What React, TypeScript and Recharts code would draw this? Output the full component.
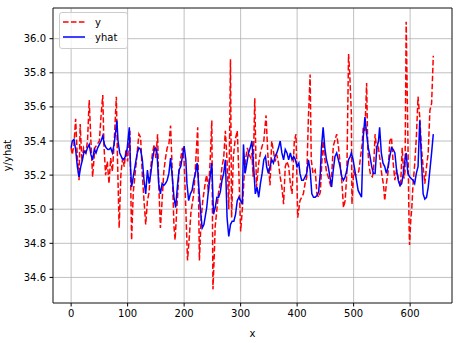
import React from 'react';
import { LineChart, Line, XAxis, YAxis, CartesianGrid, ReferenceLine, Legend } from 'recharts';

const yX = [0,2,5,8,11,14,16,19,22,26,29,32,35,38,42,46,50,53,56,58,61,64,67,70,73,76,80,82,85,88,91,94,97,100,102,104,107,110,113,116,120,123,126,129,132,135,138,141,144,147,150,153,155,158,161,164,167,170,173,176,179,182,184,187,191,194,197,200,203,206,209,212,217,220,224,227,230,233,238,240,243,246,249,251,253,255,258,261,264,267,270,273,276,279,282,284,287,290,294,297,300,303,306,309,312,315,318,320,322,325,328,332,335,338,341,345,348,352,355,358,361,364,367,370,373,376,379,382,385,388,391,395,398,401,405,408,411,414,417,420,423,425,428,432,435,438,441,444,446,448,452,455,460,464,470,473,476,479,482,485,488,491,493,496,497,500,503,506,509,512,515,517,520,523,525,527,530,533,535,538,541,544,547,550,553,555,558,561,564,567,570,573,576,579,583,586,589,591,593,596,598,599,601,603,605,608,611,614,617,620,623,626,629,632,635,638,641];
const yVals = [35.36,35.32,35.38,35.53,35.30,35.17,35.50,35.28,35.36,35.33,35.40,35.64,35.40,35.19,35.36,35.38,35.40,35.55,35.67,35.38,35.20,35.28,35.15,35.30,35.22,35.38,35.66,35.30,34.89,35.20,35.30,35.25,35.35,35.28,35.42,35.46,34.82,35.10,35.20,35.30,35.44,35.42,35.20,35.05,34.91,35.05,35.10,35.25,35.33,35.38,35.30,35.44,35.15,34.89,35.05,35.22,35.30,35.36,35.38,35.49,35.22,34.90,34.82,35.00,35.22,35.30,35.36,35.28,35.00,34.70,34.83,34.98,35.09,35.25,35.48,34.70,34.94,35.05,35.17,35.20,35.10,35.28,35.52,34.53,34.70,34.90,35.00,35.10,35.15,35.25,35.30,35.46,35.28,35.00,35.88,34.95,35.30,35.40,35.46,35.20,34.87,35.00,35.18,35.30,35.36,35.32,35.30,35.33,35.19,35.65,35.13,35.27,35.33,35.37,35.40,35.55,35.33,35.14,35.40,35.34,35.28,35.32,35.27,35.19,35.13,35.03,35.25,35.28,35.25,35.15,35.09,35.40,35.44,34.95,35.05,35.07,35.09,35.15,35.19,35.54,35.79,35.29,35.21,35.23,35.09,35.07,35.10,35.29,35.40,35.32,35.22,35.19,35.13,35.37,35.44,35.37,35.27,35.17,35.01,35.05,35.21,35.91,35.80,35.56,35.03,35.22,35.20,35.21,35.22,35.30,35.38,35.48,35.46,35.74,35.36,35.26,35.20,35.19,35.22,35.44,35.34,35.36,35.28,35.20,35.14,35.05,35.15,35.22,35.40,35.42,35.27,35.17,35.23,35.18,35.13,35.36,35.18,35.22,36.10,35.42,34.93,34.79,34.93,35.01,35.14,35.26,35.42,35.66,35.54,35.36,35.25,35.15,35.25,35.33,35.58,35.62,35.90];

const yhatX = [0,2,5,8,11,14,17,20,23,26,29,32,35,38,41,44,47,50,53,56,59,62,65,67,70,73,76,79,81,83,86,90,93,96,99,103,105,107,111,114,117,120,123,126,129,132,135,138,141,144,147,150,152,155,158,161,164,167,170,173,176,179,182,185,188,191,194,197,200,203,205,208,211,214,217,220,223,226,229,232,235,238,240,243,246,249,252,255,258,261,264,267,270,273,276,279,282,285,288,291,294,297,300,303,305,308,311,314,317,320,323,326,329,332,335,338,341,344,346,349,352,355,358,361,364,367,370,373,376,379,382,385,388,391,394,397,400,403,405,408,411,414,417,420,423,426,429,432,435,438,441,443,446,449,452,455,458,461,464,467,470,473,476,479,482,485,488,491,494,496,499,502,505,508,511,514,517,520,523,526,529,532,535,538,541,544,546,549,552,555,558,561,564,567,570,573,576,579,582,585,588,590,593,596,599,602,605,608,611,614,617,620,623,626,629,632,635,638,641];
const yhatVals = [35.36,35.40,35.41,35.35,35.25,35.19,35.25,35.29,35.34,35.33,35.36,35.38,35.32,35.29,35.35,35.33,35.36,35.38,35.40,35.43,35.38,35.36,35.35,35.35,35.36,35.33,35.38,35.46,35.52,35.40,35.33,35.30,35.29,35.31,35.35,35.48,35.25,35.13,35.21,35.27,35.33,35.36,35.35,35.29,35.17,35.09,35.23,35.15,35.21,35.29,35.35,35.36,35.33,35.15,35.09,35.15,35.14,35.15,35.17,35.21,35.30,35.19,35.07,35.01,35.13,35.23,35.25,35.31,35.37,35.29,35.15,35.05,35.09,35.11,35.17,35.21,35.27,35.13,34.99,34.89,34.91,34.97,35.01,35.11,35.19,35.27,34.97,35.01,35.07,35.07,35.10,35.17,35.21,35.29,34.95,34.84,34.91,34.93,34.93,34.97,35.05,35.07,35.05,35.03,35.38,35.21,35.27,35.33,35.36,35.40,35.25,35.09,35.13,35.07,35.15,35.21,35.29,35.31,35.25,35.21,35.25,35.29,35.27,35.31,35.33,35.36,35.40,35.33,35.29,35.35,35.33,35.29,35.33,35.29,35.31,35.29,35.25,35.27,35.21,35.17,35.17,35.19,35.21,35.29,35.23,35.09,35.07,35.07,35.08,35.10,35.21,35.36,35.48,35.36,35.29,35.25,35.19,35.13,35.23,35.31,35.33,35.29,35.25,35.19,35.17,35.19,35.23,35.29,35.31,35.33,35.29,35.23,35.17,35.11,35.09,35.07,35.42,35.54,35.44,35.36,35.31,35.25,35.21,35.21,35.36,35.40,35.48,35.33,35.27,35.25,35.21,35.25,35.31,35.36,35.35,35.33,35.23,35.17,35.14,35.15,35.21,35.27,35.33,35.21,35.19,35.18,35.17,35.15,35.21,35.25,35.52,35.29,35.09,35.06,35.07,35.13,35.23,35.33,35.44];

const xTicks = [0, 100, 200, 300, 400, 500, 600];
const yTicks = [34.6, 34.8, 35.0, 35.2, 35.4, 35.6, 35.8, 36.0];

const yData = yX.map((x, i) => ({ x, y: yVals[i] }));
const yhatData = yhatX.map((x, i) => ({ x, yhat: yhatVals[i] }));

const X_MIN = -32.1;
const X_MAX = 674.1;
const Y_MIN = 34.45;
const Y_MAX = 36.18;

const font = { fontFamily: 'DejaVu Sans', fontSize: 10, fill: '#000' };

const LegendBox = () => (
  <div style={{
    width: 69, height: 37, boxSizing: 'border-box', background: 'rgba(255,255,255,0.8)',
    border: '1px solid #cccccc', borderRadius: 3, fontFamily: 'DejaVu Sans', fontSize: 10, color: '#000',
    position: 'relative'
  }}>
    <svg width={69} height={37} style={{ position: 'absolute', left: -1, top: -1 }}>
      <line x1={4} y1={10} x2={26} y2={10} stroke="#ff0000" strokeWidth={1.5} strokeDasharray="5.55 2.4" />
      <line x1={4} y1={25} x2={26} y2={25} stroke="#0000ff" strokeWidth={1.5} />
      <text x={36} y={13.5} style={font}>y</text>
      <text x={36} y={28.5} style={font}>yhat</text>
    </svg>
  </div>
);

export default function App() {
  return (
    <div style={{ position: 'absolute', left: 0, top: 0, background: '#fff' }}>
      <LineChart width={459} height={343} margin={{ top: 8, right: 7, left: 0, bottom: 0 }}>
        <CartesianGrid stroke="#b0b0b0" strokeWidth={0.8} />
        <XAxis
          dataKey="x"
          type="number"
          domain={[X_MIN, X_MAX]}
          ticks={xTicks}
          allowDataOverflow
          height={40}
          stroke="#000"
          tickSize={3.5}
          tickMargin={3.5}
          tick={font}
          tickLine={{ stroke: '#000' }}
          axisLine={{ stroke: '#000', strokeWidth: 0.8 }}
          label={{ value: 'x', position: 'insideBottom', offset: 6, style: font }}
        />
        <YAxis
          type="number"
          domain={[Y_MIN, Y_MAX]}
          ticks={yTicks}
          allowDataOverflow
          width={53}
          stroke="#000"
          tickSize={3.5}
          tickMargin={3.5}
          tick={font}
          tickFormatter={(v: number) => v.toFixed(1)}
          tickLine={{ stroke: '#000' }}
          axisLine={{ stroke: '#000', strokeWidth: 0.8 }}
          label={{ value: 'y/yhat', angle: -90, position: 'insideLeft', offset: 7, style: { ...font, textAnchor: 'middle' } }}
        />
        <ReferenceLine x={X_MAX} stroke="#000" strokeWidth={0.8} ifOverflow="visible" />
        <ReferenceLine y={Y_MAX} stroke="#000" strokeWidth={0.8} ifOverflow="visible" />
        <Line data={yData} dataKey="y" stroke="#ff0000" strokeWidth={1.5} strokeDasharray="5.55 2.4" dot={false} isAnimationActive={false} />
        <Line data={yhatData} dataKey="yhat" stroke="#0000ff" strokeWidth={1.5} dot={false} isAnimationActive={false} />
        <Legend
          layout="horizontal"
          verticalAlign="middle"
          align="center"
          content={() => <LegendBox />}
          wrapperStyle={{ position: 'absolute', left: 59, top: 12, width: 69, height: 37 }}
        />
      </LineChart>
    </div>
  );
}
